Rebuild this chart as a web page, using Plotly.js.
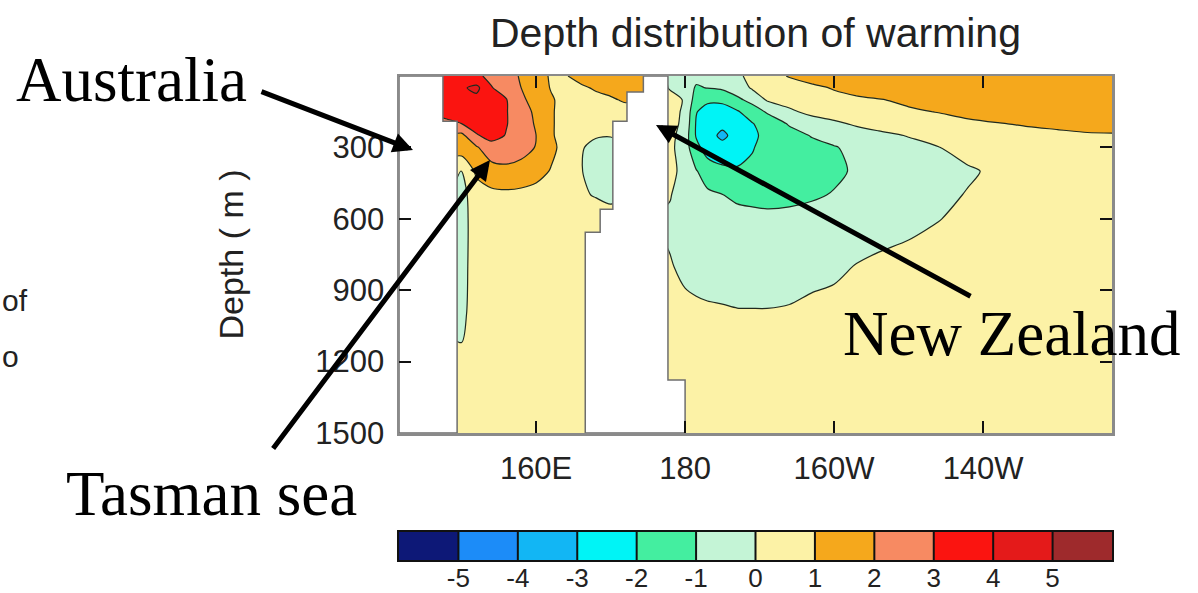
<!DOCTYPE html>
<html>
<head>
<meta charset="utf-8">
<script src="https://cdn.plot.ly/plotly-3.0.1.min.js"></script>
<style>
  html, body { margin: 0; padding: 0; background: #ffffff; }
  #chart { width: 1198px; height: 593px; }
</style>
</head>
<body>
<div id="chart"></div>
<script>
// Longitude nodes (degrees east) of the section
const lonNodes = [146, 148, 150, 152, 154, 156, 158, 160, 162, 164, 166, 168, 170, 172, 174, 176, 178,
                  180, 181.5, 183, 185, 187, 189, 191, 194, 197, 200, 203, 206, 210, 214, 218, 222, 226, 230, 234, 238];

// Depth levels (m)
const depthLevels = [0, 50, 100, 150, 200, 250, 300, 400, 500, 600, 800, 1000, 1200, 1500];

// Warming (degC) on depth x longitude; null = land
const N = null;
const warming = [
  /*    0 */ [N, 3.6, 3.7, 3.15, 2.8, 2.4, 1.9, 1.4, 0.9, 0.95, 1.3, 1.5, 1.6, 1.7, 1.6, N, -0.2, -0.4, -0.8, -0.9, -0.7, -0.2, 0.3, 0.7, 1.05, 1.3, 1.5, 1.6, 1.7, 1.7, 1.7, 1.8, 1.8, 1.8, 1.8, 1.8, 1.8],
  /*   50 */ [N, 3.6, 3.85, 4.25, 3.05, 2.6, 2.0, 1.5, 0.95, 0.8, 0.85, 1.1, 1.25, 1.35, 1.3, N, -0.1, -0.6, -1.08, -0.98, -0.85, -0.5, 0.1, 0.4, 0.65, 0.85, 1.05, 1.2, 1.35, 1.45, 1.5, 1.6, 1.65, 1.7, 1.7, 1.7, 1.7],
  /*  100 */ [N, 3.5, 3.7, 3.7, 3.45, 3.05, 2.15, 1.7, 1.1, 0.7, 0.6, 0.75, 0.9, 1.1, N, N, 0.4, -0.1, -1.5, -1.8, -1.75, -1.2, -0.7, 0.1, 0.45, 0.65, 0.8, 0.9, 0.97, 1.1, 1.25, 1.35, 1.45, 1.5, 1.55, 1.6, 1.6],
  /*  150 */ [N, 3.4, 3.6, 3.7, 3.5, 3.05, 2.45, 1.8, 1.1, 0.65, 0.55, 0.55, 0.6, 0.7, N, N, 0.4, -0.2, -1.95, -2.4, -2.5, -2.1, -1.5, -0.9, -0.2, 0.3, 0.55, 0.7, 0.8, 0.93, 1.02, 1.15, 1.25, 1.3, 1.35, 1.4, 1.4],
  /*  200 */ [N, N, 3.0, 3.5, 3.5, 3.05, 2.5, 1.9, 1.1, 0.65, 0.45, 0.35, 0.3, N, N, N, 0.4, -0.3, -2.1, -2.6, -2.75, -2.5, -2.05, -1.6, -0.9, -0.55, -0.2, 0.15, 0.4, 0.6, 0.8, 0.9, 0.98, 1.05, 1.1, 1.15, 1.2],
  /*  250 */ [N, N, 1.75, 2.9, 3.35, 2.95, 2.5, 2.0, 1.1, 0.65, 0.3, 0.1, 0.05, N, N, N, 0.3, -0.5, -2.1, -2.65, -3.2, -2.65, -2.15, -1.8, -1.35, -0.95, -0.7, -0.5, -0.25, 0.05, 0.3, 0.55, 0.75, 0.85, 0.9, 0.95, 0.95],
  /*  300 */ [N, N, 1.6, 1.9, 2.6, 2.7, 2.4, 1.95, 1.2, 0.7, 0.1, -0.3, -0.35, N, N, N, 0.25, -0.6, -1.7, -2.5, -2.7, -2.4, -2.05, -1.75, -1.5, -1.25, -1.05, -0.8, -0.6, -0.3, -0.02, 0.3, 0.5, 0.65, 0.75, 0.8, 0.8],
  /*  400 */ [N, N, -0.05, 1.2, 1.6, 1.7, 1.6, 1.3, 0.95, 0.45, 0.05, -0.35, -0.4, N, N, N, 0.25, -0.3, -0.95, -1.4, -1.75, -1.9, -1.85, -1.7, -1.5, -1.3, -1.15, -0.9, -0.7, -0.45, -0.25, -0.1, 0.15, 0.35, 0.45, 0.5, 0.5],
  /*  500 */ [N, N, -0.3, 0.5, 0.75, 0.8, 0.75, 0.7, 0.6, 0.45, 0.1, -0.05, -0.1, N, N, N, 0.05, -0.5, -0.7, -0.85, -0.98, -1.15, -1.2, -1.25, -1.2, -1.1, -0.95, -0.75, -0.6, -0.4, -0.2, 0.05, 0.25, 0.35, 0.4, 0.42, 0.42],
  /*  600 */ [N, N, -0.35, 0.45, 0.6, 0.65, 0.6, 0.55, 0.5, 0.45, 0.4, 0.4, N, N, N, N, -0.15, -0.35, -0.45, -0.55, -0.65, -0.75, -0.8, -0.82, -0.8, -0.72, -0.6, -0.48, -0.35, -0.2, -0.02, 0.15, 0.25, 0.3, 0.35, 0.38, 0.38],
  /*  800 */ [N, N, -0.25, 0.35, 0.5, 0.55, 0.55, 0.5, 0.5, 0.45, 0.45, N, N, N, N, N, 0.05, -0.15, -0.25, -0.32, -0.38, -0.42, -0.45, -0.45, -0.4, -0.25, -0.15, 0.03, 0.15, 0.25, 0.3, 0.32, 0.35, 0.35, 0.35, 0.35, 0.35],
  /* 1000 */ [N, N, -0.15, 0.3, 0.4, 0.45, 0.45, 0.45, 0.45, 0.4, 0.4, N, N, N, N, N, 0.2, 0.18, 0.15, 0.12, 0.1, 0.06, 0.06, 0.06, 0.1, 0.2, 0.25, 0.28, 0.3, 0.3, 0.3, 0.3, 0.3, 0.3, 0.3, 0.3, 0.3],
  /* 1200 */ [N, N, 0.1, 0.3, 0.35, 0.35, 0.35, 0.35, 0.35, 0.35, 0.35, N, N, N, N, N, 0.3, 0.3, 0.3, 0.3, 0.3, 0.3, 0.3, 0.3, 0.3, 0.3, 0.3, 0.3, 0.3, 0.3, 0.3, 0.3, 0.3, 0.3, 0.3, 0.3, 0.3],
  /* 1500 */ [N, N, 0.25, 0.3, 0.3, 0.3, 0.3, 0.3, 0.3, 0.3, 0.3, N, N, N, N, N, N, 0.3, 0.3, 0.3, 0.3, 0.3, 0.3, 0.3, 0.3, 0.3, 0.3, 0.3, 0.3, 0.3, 0.3, 0.3, 0.3, 0.3, 0.3, 0.3, 0.3]
];

// Contour levels and the fill colour of each band (below -5 ... above 5)
const levels = [-5, -4, -3, -2, -1, 0, 1, 2, 3, 4, 5];
const levelLabels = ['-5', '-4', '-3', '-2', '-1', '0', '1', '2', '3', '4', '5'];
const bandColors = ['#0d1877', '#1c8cf8', '#12b6f4', '#00f4f6', '#44eea0', '#c4f4d6',
                    '#fcf2a6', '#f5a81c', '#f78a62', '#fb1410', '#e41a1a', '#9e2a2c'];

// Land masks (lon degE, depth m)
const westLandLon = [141.6, 147.5, 147.5, 149.4, 149.4, 141.6, 141.6];
const westLandDepth = [0, 0, 190, 190, 1500, 1500, 0];
const nzLandLon = [174.4, 177.7, 177.7, 180, 180, 166.6, 166.6, 168.6, 168.6, 170.3, 170.3, 172.2, 172.2, 174.4, 174.4];
const nzLandDepth = [0, 0, 1277, 1277, 1500, 1500, 657, 657, 560, 560, 190, 190, 67, 67, 0];

// Axis ticks
const lonTicks = [160, 180, 200, 220];
const lonTickText = ['160E', '180', '160W', '140W'];
const depthTicks = [300, 600, 900, 1200, 1500];

// Figure geometry (pixels): the section sits on top, the colour key below it
const W = 1198, H = 593;
const M = { l: 399, r: 86, t: 76, b: 33 };
const plotW = W - M.l - M.r, plotH = H - M.t - M.b;
const sectionBottom = 433, keyTop = 532;
const px = x => (x - M.l) / plotW;
const py = y => (H - M.b - y) / plotH;

const colorscale = bandColors.map((c, i) => [i / (bandColors.length - 1), c]);

const contour = {
  type: 'contour',
  x: lonNodes,
  y: depthLevels,
  z: warming,
  connectgaps: true,
  autocontour: false,
  contours: { start: levels[0], end: levels[levels.length - 1], size: 1, coloring: 'fill', showlines: true },
  line: { color: '#1f2a1f', width: 1.2, smoothing: 0.8 },
  colorscale: colorscale,
  showscale: false,
  hoverinfo: 'skip'
};

const landStyle = {
  type: 'scatter', mode: 'lines', fill: 'toself', fillcolor: '#ffffff',
  line: { color: '#6e6e6e', width: 1.5 }, hoverinfo: 'skip', showlegend: false
};
const westLand = Object.assign({}, landStyle, { x: westLandLon, y: westLandDepth });
const nzLand = Object.assign({}, landStyle, { x: nzLandLon, y: nzLandDepth });

// Colour key: one cell per band, edges one unit beyond the outer levels
const bandEdges = [levels[0] - 1].concat(levels, [levels[levels.length - 1] + 1]);
const keyCells = {
  type: 'heatmap', xaxis: 'x2', yaxis: 'y2',
  x: bandEdges, y: [0, 1], z: [bandColors.map((c, i) => i)],
  zmin: 0, zmax: bandColors.length - 1, colorscale: colorscale,
  showscale: false, hoverinfo: 'skip'
};
const sepX = [], sepY = [];
levels.forEach(l => { sepX.push(l, l, null); sepY.push(0, 1, null); });
const keyLines = {
  type: 'scatter', mode: 'lines', xaxis: 'x2', yaxis: 'y2',
  x: sepX, y: sepY, line: { color: '#111', width: 2 }, hoverinfo: 'skip', showlegend: false
};

const serif = { family: 'Liberation Serif, Times New Roman, serif', size: 63, color: '#000' };
const sans = { family: 'Liberation Sans, Arial, sans-serif', size: 30, color: '#222' };

function label(text, x, y, font, xanchor) {
  return { text: text, xref: 'paper', yref: 'paper', x: px(x), y: py(y),
           xanchor: xanchor || 'center', yanchor: 'middle', showarrow: false, font: font };
}
function pointer(tipX, tipY, tailX, tailY) {
  return { text: '', xref: 'paper', yref: 'paper', x: px(tipX), y: py(tipY),
           ax: tailX - tipX, ay: tailY - tipY, showarrow: true,
           arrowhead: 2, arrowsize: 0.8, arrowwidth: 5, arrowcolor: '#000', standoff: 0 };
}

const axisCommon = {
  ticks: 'inside', ticklen: 12, tickwidth: 2, tickcolor: '#111',
  showline: true, linecolor: '#8a8a8a', linewidth: 2.5, mirror: 'ticks',
  showgrid: false, zeroline: false, automargin: false,
  tickfont: { family: 'Liberation Sans, Arial, sans-serif', size: 31, color: '#222' }
};

const layout = {
  width: W, height: H,
  margin: M,
  paper_bgcolor: '#ffffff', plot_bgcolor: '#ffffff',
  font: { family: 'Liberation Sans, Arial, sans-serif', color: '#222' },
  showlegend: false,
  title: {
    text: 'Depth distribution of warming',
    font: { family: 'Liberation Sans, Arial, sans-serif', size: 41, color: '#222' },
    xref: 'paper', x: 0.5, xanchor: 'center',
    yref: 'container', y: 1 - 33 / H, yanchor: 'middle'
  },
  xaxis: Object.assign({}, axisCommon, {
    domain: [0, 1], anchor: 'y',
    range: [141.6, 237.3], tickmode: 'array', tickvals: lonTicks, ticktext: lonTickText,
    ticklabelstandoff: 6
  }),
  yaxis: Object.assign({}, axisCommon, {
    domain: [py(sectionBottom), 1], anchor: 'x',
    range: [1500, 0], tickmode: 'array', tickvals: depthTicks,
    ticklabelstandoff: 6,
    title: { text: 'Depth ( m )', font: { family: 'Liberation Sans, Arial, sans-serif', size: 34, color: '#222' }, standoff: 62 }
  }),
  xaxis2: {
    domain: [0, 1], anchor: 'y2', range: [bandEdges[0], bandEdges[bandEdges.length - 1]],
    tickmode: 'array', tickvals: levels, ticktext: levelLabels, ticks: '',
    ticklabelstandoff: -6,
    showline: true, linecolor: '#111', linewidth: 2, mirror: true,
    showgrid: false, zeroline: false, automargin: false, fixedrange: true,
    tickfont: { family: 'Liberation Sans, Arial, sans-serif', size: 26, color: '#222' }
  },
  yaxis2: {
    domain: [0, py(keyTop)], anchor: 'x2', range: [0, 1],
    showticklabels: false, ticks: '', showgrid: false, zeroline: false,
    showline: true, linecolor: '#111', linewidth: 2, mirror: true, fixedrange: true
  },
  annotations: [
    label('Australia', 131, 80, serif),
    label('Tasman sea', 211, 494, serif),
    label('New Zealand', 1012, 334, serif),
    label('of', 0, 300, sans, 'left'),
    label('o', 0, 356, sans, 'left'),
    pointer(413, 150, 260, 91),
    pointer(490, 160, 272, 450),
    pointer(656, 125, 972, 297)
  ]
};

Plotly.newPlot('chart', [contour, westLand, nzLand, keyCells, keyLines], layout, { staticPlot: true, displayModeBar: false });
</script>
</body>
</html>
